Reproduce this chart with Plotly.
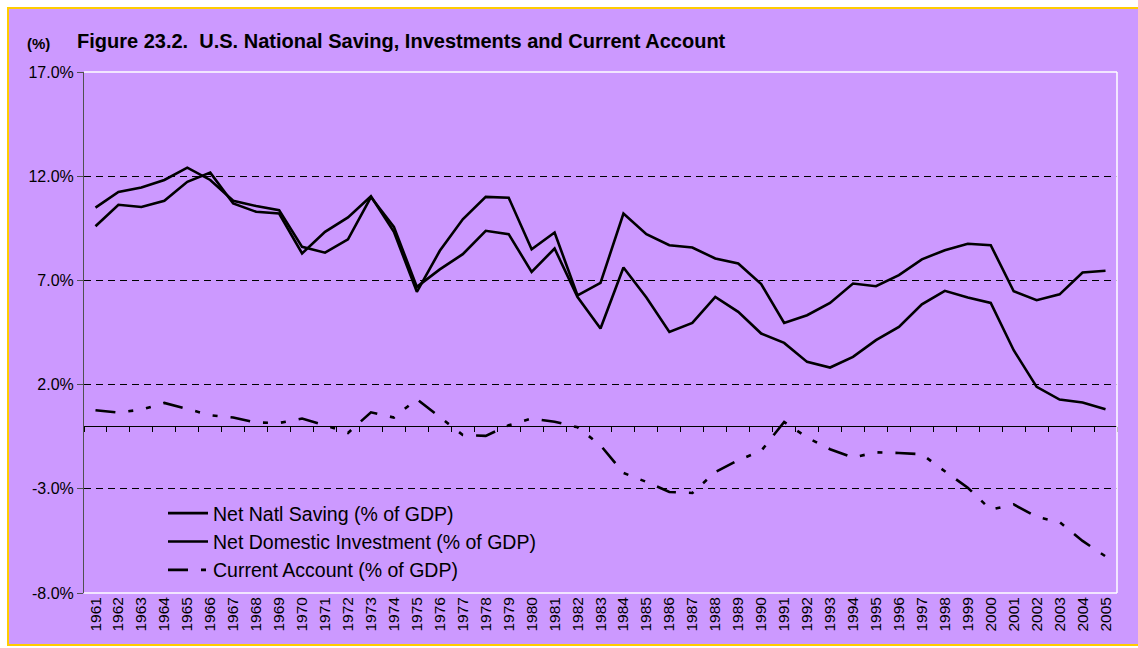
import plotly.graph_objects as go

# ---------------- data ----------------
years = list(range(1961, 2006))

net_natl_saving = [10.49, 11.24, 11.46, 11.82, 12.41, 11.82, 10.82, 10.57, 10.37, 8.61,
                   8.33, 8.97, 11.00, 9.57, 6.69, 7.53, 8.26, 9.38, 9.22, 7.41,
                   8.53, 6.20, 4.69, 7.62, 6.18, 4.53, 4.96, 6.21, 5.49, 4.45,
                   4.00, 3.09, 2.82, 3.33, 4.13, 4.77, 5.85, 6.50, 6.18, 5.92,
                   3.65, 1.89, 1.28, 1.14, 0.82]

net_dom_investment = [9.60, 10.63, 10.52, 10.82, 11.73, 12.17, 10.69, 10.29, 10.21, 8.29,
                      9.33, 10.02, 11.04, 9.33, 6.45, 8.42, 9.93, 11.01, 10.97, 8.49,
                      9.30, 6.28, 6.88, 10.21, 9.22, 8.69, 8.58, 8.05, 7.81, 6.82,
                      4.96, 5.33, 5.92, 6.85, 6.72, 7.25, 8.01, 8.45, 8.76, 8.69,
                      6.48, 6.05, 6.33, 7.38, 7.46]

current_account = [0.77, 0.66, 0.80, 1.12, 0.83, 0.53, 0.42, 0.18, 0.16, 0.37,
                   0.05, -0.32, 0.67, 0.42, 1.30, 0.46, -0.42, -0.46, 0.05, 0.37,
                   0.22, -0.05, -0.91, -2.24, -2.67, -3.15, -3.20, -2.20, -1.63, -1.18,
                   0.21, -0.54, -1.10, -1.50, -1.25, -1.28, -1.34, -2.16, -2.95, -4.00,
                   -3.75, -4.35, -4.60, -5.50, -6.24]

y_ticks = [-8, -3, 2, 7, 12, 17]
y_tick_labels = ["-8.0%", "-3.0%", "2.0%", "7.0%", "12.0%", "17.0%"]

series_names = ["Net Natl Saving (% of GDP)",
                "Net Domestic Investment (% of GDP)",
                "Current Account (% of GDP)"]

title_text = "Figure 23.2.  U.S. National Saving, Investments and Current Account"

# ---------------- layout geometry ----------------
W, H = 1138, 648
L, R, T, B = 84, 1117, 72, 593
PW, PH = R - L, B - T


def px_x(x):
    return (x - L) / PW


def px_y(y):
    return (B - y) / PH


PURPLE = "#CC99FF"
FONT = "Arial, Liberation Sans, sans-serif"

idx = list(range(len(years)))

fig = go.Figure()
fig.add_trace(go.Scatter(x=idx, y=net_natl_saving, mode="lines", name=series_names[0],
                         legendgroup="a", line=dict(color="black", width=2.6)))
fig.add_trace(go.Scatter(x=idx, y=net_dom_investment, mode="lines", name=series_names[1],
                         legendgroup="b", line=dict(color="black", width=2.6)))
fig.add_trace(go.Scatter(x=idx, y=current_account, mode="lines", name=series_names[2],
                         legendgroup="c",
                         line=dict(color="black", width=2.6,
                                   dash="20px,13px,5px,13px,5px,13px")))
# invisible helper trace so the zero-line category axis is drawn
fig.add_trace(go.Scatter(x=[0], y=[0], xaxis="x2", mode="markers",
                         marker=dict(opacity=0), showlegend=False, hoverinfo="skip"))

ymin, ymax = -8, 17
fig.update_layout(
    width=W, height=H,
    margin=dict(l=L, r=W - R, t=T, b=H - B, pad=0),
    paper_bgcolor="white",
    plot_bgcolor=PURPLE,
    font=dict(family=FONT, color="black"),
    showlegend=True,
    hovermode=False,
    legend=dict(x=px_x(163), y=px_y(494), xanchor="left", yanchor="top",
                bgcolor="rgba(0,0,0,0)", borderwidth=0,
                font=dict(family=FONT, size=19.5, color="black"),
                tracegroupgap=0, itemwidth=40),
    xaxis=dict(range=[-0.5, len(years) - 0.5], tickmode="array", tickvals=idx,
               ticktext=[str(y) for y in years], tickangle=-90,
               tickfont=dict(family=FONT, size=15.5, color="black"),
               showgrid=False, zeroline=False, showline=False, ticks=""),
    xaxis2=dict(range=[-0.5, len(years) - 0.5], overlaying="x", anchor="free",
                position=(0 - ymin) / (ymax - ymin), side="bottom",
                tickmode="array", tickvals=[i - 0.5 for i in range(len(years) + 1)],
                showticklabels=False, ticks="outside", ticklen=5, tickwidth=1,
                tickcolor="black", showline=True, linecolor="black", linewidth=1.2,
                showgrid=False, zeroline=False),
    yaxis=dict(range=[ymin, ymax], tickmode="array", tickvals=y_ticks,
               ticktext=y_tick_labels, tickfont=dict(family=FONT, size=16, color="black"),
               showgrid=True, gridcolor="black", gridwidth=1, griddash="7px,5px",
               zeroline=False, showline=True, linecolor="#505050", linewidth=1,
               ticks="outside", ticklen=6, tickcolor="#505050"),
    shapes=[
        # purple chart area with gold edge
        dict(type="rect", xref="paper", yref="paper",
             x0=px_x(8), x1=px_x(W + 20), y0=px_y(645), y1=px_y(8),
             fillcolor=PURPLE, line=dict(color="#FFCC00", width=2), layer="below"),
        # white plot-area border (top, right, bottom)
        dict(type="line", xref="paper", yref="paper", x0=0, x1=1, y0=1, y1=1,
             line=dict(color="white", width=1.5), layer="above"),
        dict(type="line", xref="paper", yref="paper", x0=1, x1=1, y0=0, y1=1,
             line=dict(color="white", width=1.5), layer="above"),
        dict(type="line", xref="paper", yref="paper", x0=0, x1=1, y0=0, y1=0,
             line=dict(color="white", width=1.5), layer="above"),
    ],
    annotations=[
        dict(text="<b>(%)</b>", xref="paper", yref="paper", x=px_x(25), y=px_y(43),
             xanchor="left", yanchor="middle", showarrow=False,
             font=dict(family=FONT, size=15, color="black")),
        dict(text="<b>" + title_text + "</b>", xref="paper", yref="paper",
             x=px_x(75), y=px_y(41), xanchor="left", yanchor="middle", showarrow=False,
             font=dict(family=FONT, size=20, color="black")),
    ],
)

fig.write_html("out.html", config={"displayModeBar": False},
               post_script="document.body.style.margin='0';document.body.style.overflow='hidden';")
